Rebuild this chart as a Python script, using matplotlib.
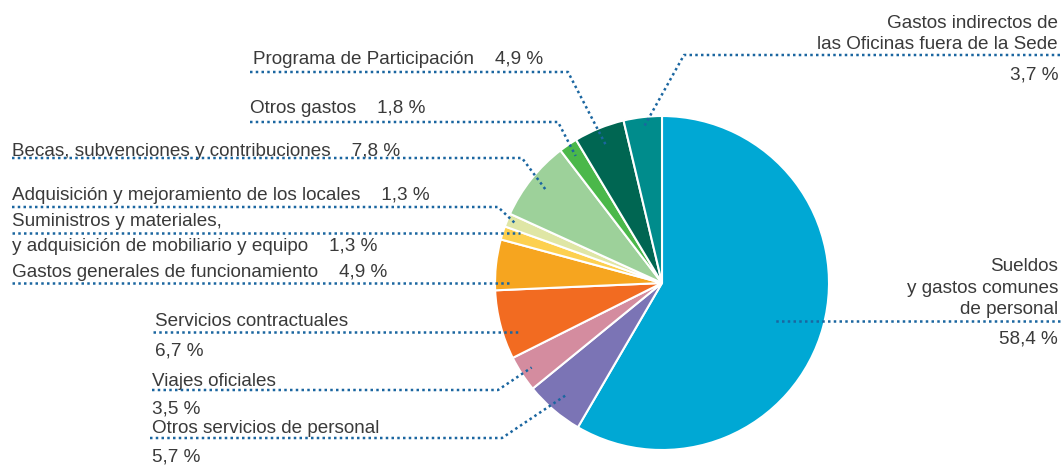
import numpy as np
import matplotlib
matplotlib.use('Agg')
import matplotlib.pyplot as plt

# data
categories = [
    'Sueldos\ny gastos comunes\nde personal',
    'Otros servicios de personal',
    'Viajes oficiales',
    'Servicios contractuales',
    'Gastos generales de funcionamiento',
    'Suministros y materiales,\ny adquisición de mobiliario y equipo',
    'Adquisición y mejoramiento de los locales',
    'Becas, subvenciones y contribuciones',
    'Otros gastos',
    'Programa de Participación',
    'Gastos indirectos de\nlas Oficinas fuera de la Sede',
]
shares = [58.4, 5.7, 3.5, 6.7, 4.9, 1.3, 1.3, 7.8, 1.8, 4.9, 3.7]
colors = ['#00a8d4', '#7b74b5', '#d48c9f', '#f26b21', '#f6a51f', '#fdd04f',
          '#dfe6a5', '#9dd19a', '#4bb84a', '#006652', '#008c8c']

W, H = 1063, 466
cx, cy, R = 662, 283, 167
TXT = '#3a3a3a'
LEAD = '#1b66a0'
FS = 13.6

fig = plt.figure(figsize=(W / 100, H / 100), dpi=100)
ax = fig.add_axes([0, 0, 1, 1])
ax.set_xlim(0, W)
ax.set_ylim(H, 0)
ax.set_aspect('equal')
ax.axis('off')

# y axis is inverted, so startangle=-90 is the top and ccw looks clockwise
wedges, _ = ax.pie(shares, colors=colors, center=(cx, cy), radius=R,
                   startangle=-90, counterclock=True, frame=False,
                   wedgeprops=dict(edgecolor='white', linewidth=1.5))
ax.set_xlim(0, W)
ax.set_ylim(H, 0)


def pct(v):
    return f'{v:.1f}'.replace('.', ',') + ' %'


def mid_point(i, rf):
    w = wedges[i]
    a = np.deg2rad((w.theta1 + w.theta2) / 2)
    return cx + rf * R * np.cos(a), cy + rf * R * np.sin(a)


def circle_x(y, rf, side):
    return cx + side * np.sqrt((rf * R) ** 2 - (y - cy) ** 2)


def leader(pts):
    xs, ys = zip(*pts)
    ax.plot(xs, ys, color=LEAD, lw=1.8, ls=(0, (1, 1.3)),
            solid_capstyle='butt', dash_capstyle='butt', zorder=5)


def txt(x, y, s, ha='left'):
    ax.text(x, y, s, ha=ha, va='baseline', fontsize=FS, color=TXT,
            family=['Liberation Sans', 'DejaVu Sans'])


gap = '    '
# Sueldos
lines = categories[0].split('\n')
for s, y in zip(lines, [271, 293, 314]):
    txt(1058, y, s, 'right')
txt(1058, 343, pct(shares[0]), 'right')
leader([(1060, 321), (circle_x(321, 0.70, 1), 321)])

# Otros servicios de personal
txt(152, 433, categories[1])
txt(152, 462, pct(shares[1]))
leader([(150, 438), (502, 438), mid_point(1, 0.88)])

# Viajes oficiales
txt(152, 386, categories[2])
txt(152, 414, pct(shares[2]))
leader([(152, 390), (498, 390), mid_point(2, 0.93)])

# Servicios contractuales
txt(155, 326, categories[3])
txt(155, 355, pct(shares[3]))
leader([(153, 332), (circle_x(332, 0.91, -1), 332)])

# Gastos generales
txt(12, 277, categories[4] + gap + pct(shares[4]))
leader([(12, 283), (circle_x(283, 0.91, -1), 283)])

# Suministros
l1, l2 = categories[5].split('\n')
txt(12, 226, l1)
txt(12, 251, l2 + gap + pct(shares[5]))
leader([(12, 233), (circle_x(233, 0.90, -1), 233)])

# Adquisición
txt(12, 200, categories[6] + gap + pct(shares[6]))
leader([(12, 207), (498, 207), mid_point(6, 0.95)])

# Becas
txt(12, 156, categories[7] + gap + pct(shares[7]))
leader([(12, 158), (522, 158), mid_point(7, 0.88)])

# Otros gastos
txt(250, 113, categories[8] + gap + pct(shares[8]))
leader([(250, 122), (558, 122), mid_point(8, 0.92)])

# Programa de Participación
txt(253, 64, categories[9] + gap + pct(shares[9]))
leader([(250, 72), (568, 72), mid_point(9, 0.89)])

# Gastos indirectos
l1, l2 = categories[10].split('\n')
txt(1058, 28, l1, 'right')
txt(1058, 49, l2, 'right')
txt(1058, 79, pct(shares[10]), 'right')
leader([(1060, 55), (684, 55), mid_point(10, 0.94)])

fig.savefig('out.png', dpi=100, facecolor='white')
